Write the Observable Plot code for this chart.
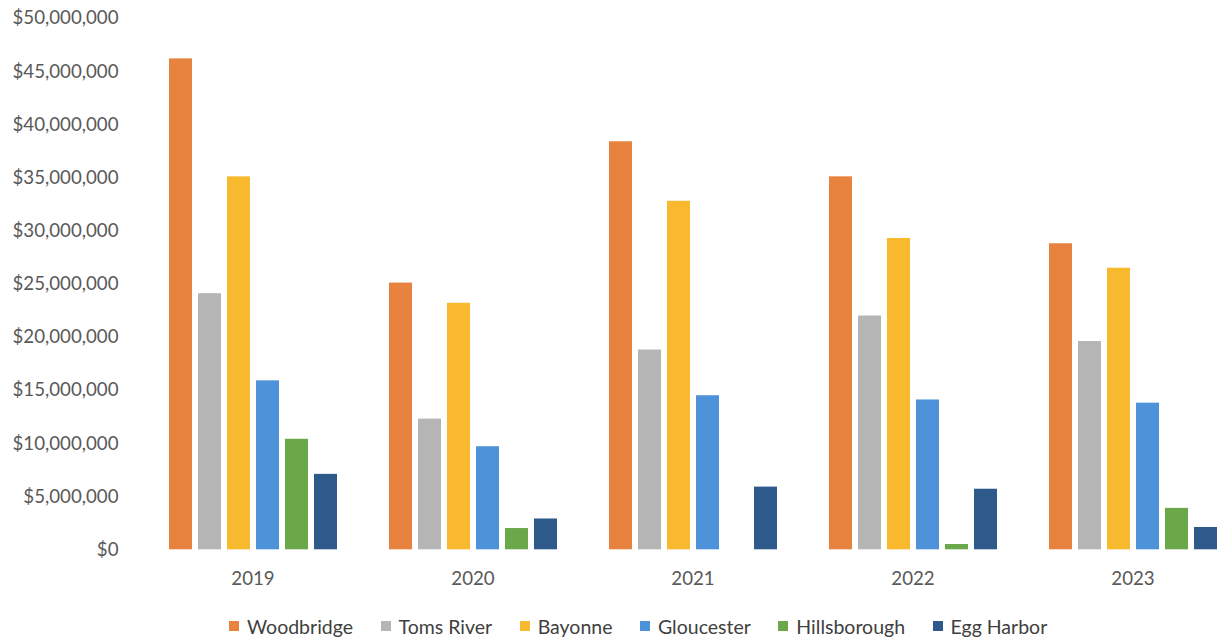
<!DOCTYPE html>
<html>
<head>
<meta charset="utf-8">
<script src="https://cdn.jsdelivr.net/npm/d3@7"></script>
<script src="https://cdn.jsdelivr.net/npm/@observablehq/plot@0.6"></script>
<style>
  html, body { margin: 0; padding: 0; background: #fff; overflow: hidden; }
  #chart svg { overflow: visible; display: block; }
  #legend { display: flex; align-items: center; height: 52px; padding-left: 229px; font-family: Lato, sans-serif; font-size: 19.5px; color: #404040; gap: 27.5px; }
  .item { display: flex; align-items: center; gap: 8px; }
  .sw { width: 10px; height: 10px; display: inline-block; }
</style>
</head>
<body>
<div id="chart"></div>
<div id="legend"></div>
<script>
const years = ["2019", "2020", "2021", "2022", "2023"];
const cities = ["Woodbridge", "Toms River", "Bayonne", "Gloucester", "Hillsborough", "Egg Harbor"];
const colors = ["#E8823F", "#B5B5B5", "#F9B92F", "#4E93DA", "#6AA84A", "#2D5A8A"];
const woodbridge   = [46200000, 25100000, 38400000, 35100000, 28800000];
const tomsRiver    = [24100000, 12300000, 18800000, 22000000, 19600000];
const bayonne      = [35100000, 23200000, 32800000, 29300000, 26500000];
const gloucester   = [15900000, 9700000, 14500000, 14100000, 13800000];
const hillsborough = [10400000, 2000000, 0, 500000, 3900000];
const eggHarbor    = [7100000, 2900000, 5900000, 5700000, 2100000];
const yTicks = [0, 5000000, 10000000, 15000000, 20000000, 25000000, 30000000, 35000000, 40000000, 45000000, 50000000];

const series = [woodbridge, tomsRiver, bayonne, gloucester, hillsborough, eggHarbor];
const data = [];
years.forEach((yr, i) => cities.forEach((c, j) => data.push({year: yr, city: c, value: series[j][i]})));

const fmt = d3.format("$,");
const chart = Plot.plot({
  width: 1217,
  height: 600,
  marginLeft: 141,
  marginRight: -26.5,
  marginTop: 18,
  marginBottom: 50.7,
  style: {fontFamily: "Lato, sans-serif", fontSize: "18.7px", color: "#595959", background: "#fff", overflow: "visible"},
  fx: {domain: years, paddingInner: 0.197, paddingOuter: 0.0985, label: null, axis: "bottom", tickSize: 0, tickPadding: 22},
  x: {domain: cities, paddingInner: 0.22, paddingOuter: 0.11, axis: null},
  y: {domain: [0, 50000000], ticks: yTicks, tickFormat: fmt, tickSize: 0, tickPadding: 46, label: null},
  color: {domain: cities, range: colors},
  marks: [
    Plot.barY(data, {fx: "year", x: "city", y: "value", fill: "city"})
  ]
});
document.getElementById("chart").appendChild(chart);

const legend = document.getElementById("legend");
cities.forEach((c, j) => {
  const it = document.createElement("div");
  it.className = "item";
  it.innerHTML = `<span class="sw" style="background:${colors[j]}"></span><span>${c}</span>`;
  legend.appendChild(it);
});
</script>
</body>
</html>
